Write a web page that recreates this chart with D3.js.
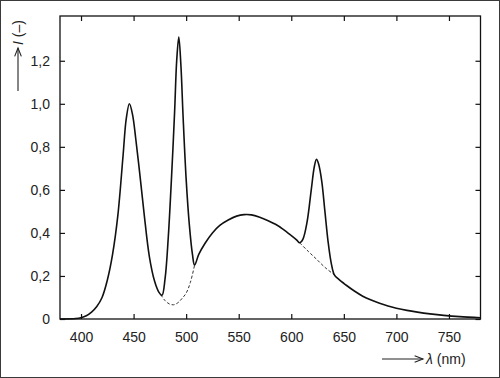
<!DOCTYPE html>
<html>
<head>
<meta charset="utf-8">
<script src="https://cdn.jsdelivr.net/npm/d3@7"></script>
<style>
  body { margin: 0; background: #fff; }
  svg { display: block; }
</style>
</head>
<body>
<div id="chart"></div>
<script>
/* Spectrum of a white LED: emission peaks on top of a broad phosphor band */
var waveLength = [380, 395, 400, 405, 410, 415, 420, 425, 430, 435, 440, 443, 446, 449, 452, 456, 460, 465, 470, 474, 477,
    480, 483, 486, 489, 491, 493, 495, 497, 500, 503, 506, 508, 512, 518, 525, 532, 540, 548, 555, 562, 570, 578, 585,
    592, 600, 605, 608, 611, 615, 619, 622, 624, 626, 629, 632, 635, 638, 641, 645, 652, 660, 668, 676, 684, 692, 700,
    710, 720, 732, 745, 760, 780];
var intensity = [0, 0.002, 0.006, 0.015, 0.032, 0.058, 0.1, 0.18, 0.3, 0.48, 0.76, 0.93, 1.0, 0.95, 0.84, 0.67, 0.49, 0.29, 0.175, 0.125, 0.11,
    0.19, 0.38, 0.65, 0.96, 1.2, 1.31, 1.18, 0.95, 0.65, 0.44, 0.3, 0.25, 0.3, 0.352, 0.4, 0.435, 0.46, 0.478, 0.485, 0.484, 0.473, 0.457, 0.44,
    0.418, 0.388, 0.368, 0.354, 0.37, 0.45, 0.6, 0.71, 0.742, 0.72, 0.64, 0.5, 0.36, 0.26, 0.205, 0.185, 0.158, 0.13, 0.106, 0.088, 0.073, 0.06, 0.05,
    0.04, 0.032, 0.024, 0.017, 0.011, 0.006];

/* dashed baseline under the two narrow peaks */
var dashWave1 = [476, 480, 484, 488, 492, 496, 500, 504, 508];
var dashValue1 = [0.113, 0.085, 0.07, 0.066, 0.075, 0.095, 0.12, 0.17, 0.25];
var dashWave2 = [608, 616, 624, 632, 641];
var dashValue2 = [0.354, 0.315, 0.278, 0.24, 0.205];

var xTicks = [400, 450, 500, 550, 600, 650, 700, 750];
var yTicks = [0, 0.2, 0.4, 0.6, 0.8, 1.0, 1.2];

var width = 500,
    height = 378,
    fontSize = 14,
    fontFamily = "'Liberation Sans', Arial, Helvetica, sans-serif";

var plot = { left: 60, right: 480.5, top: 16, bottom: 319 };

var x = d3.scaleLinear().domain([380, 780]).range([plot.left, plot.right]);
var y = d3.scaleLinear().domain([0, 1.408]).range([plot.bottom, plot.top]);

var svg = d3.select("#chart").append("svg")
    .attr("width", width)
    .attr("height", height)
    .style("font-family", fontFamily);

/* outer picture frame */
svg.append("rect")
    .attr("x", 0.5).attr("y", 0.5)
    .attr("width", width - 1).attr("height", height - 1)
    .attr("fill", "none")
    .attr("stroke", "#3a3a3a")
    .attr("stroke-width", 1);

function yFormat(d) {
    return d === 0 ? "0" : d.toFixed(1).replace(".", ",");
}

function styleAxis(g) {
    g.select(".domain").remove();
    g.selectAll(".tick line").attr("stroke", "#111").attr("stroke-width", 1.2);
    g.selectAll(".tick text").attr("fill", "#222").style("font-size", fontSize + "px").style("font-family", fontFamily);
}

svg.append("g")
    .attr("transform", "translate(0," + plot.bottom + ")")
    .call(d3.axisBottom(x).tickValues(xTicks).tickSize(-5).tickPadding(13))
    .call(styleAxis);

svg.append("g")
    .attr("transform", "translate(0," + plot.top + ")")
    .call(d3.axisTop(x).tickValues(xTicks).tickSize(-5).tickFormat(""))
    .call(styleAxis);

svg.append("g")
    .attr("transform", "translate(" + plot.left + ",0)")
    .call(d3.axisLeft(y).tickValues(yTicks).tickSize(-5).tickPadding(10).tickFormat(yFormat))
    .call(styleAxis);

svg.append("g")
    .attr("transform", "translate(" + plot.right + ",0)")
    .call(d3.axisRight(y).tickValues(yTicks).tickSize(-5).tickFormat(""))
    .call(styleAxis);

/* plot frame */
svg.append("rect")
    .attr("x", plot.left).attr("y", plot.top)
    .attr("width", plot.right - plot.left).attr("height", plot.bottom - plot.top)
    .attr("fill", "none")
    .attr("stroke", "#111")
    .attr("stroke-width", 1.3);

var line = d3.line()
    .x(function(d) { return x(d[0]); })
    .y(function(d) { return y(d[1]); })
    .curve(d3.curveCatmullRom.alpha(0.5));

svg.append("path")
    .datum(d3.zip(dashWave1, dashValue1))
    .attr("d", line)
    .attr("fill", "none")
    .attr("stroke", "#333")
    .attr("stroke-width", 1)
    .attr("stroke-dasharray", "3,2");

svg.append("path")
    .datum(d3.zip(dashWave2, dashValue2))
    .attr("d", line)
    .attr("fill", "none")
    .attr("stroke", "#333")
    .attr("stroke-width", 1)
    .attr("stroke-dasharray", "3,2");

svg.append("path")
    .datum(d3.zip(waveLength, intensity))
    .attr("d", line)
    .attr("fill", "none")
    .attr("stroke", "#111")
    .attr("stroke-width", 1.6)
    .attr("stroke-linejoin", "round");

/* axis titles with arrows */
function arrow(x1, y1, x2, y2) {
    var a = Math.atan2(y2 - y1, x2 - x1), len = 9, spread = 0.38;
    svg.append("line")
        .attr("x1", x1).attr("y1", y1).attr("x2", x2).attr("y2", y2)
        .attr("stroke", "#222").attr("stroke-width", 1.1);
    svg.append("path")
        .attr("d", "M" + (x2 - len * Math.cos(a - spread)) + "," + (y2 - len * Math.sin(a - spread)) +
            "L" + x2 + "," + y2 +
            "L" + (x2 - len * Math.cos(a + spread)) + "," + (y2 - len * Math.sin(a + spread)))
        .attr("fill", "none").attr("stroke", "#222").attr("stroke-width", 1.1);
}

arrow(18, 91, 18, 48);
var yLabel = svg.append("text")
    .attr("transform", "translate(23,45) rotate(-90)")
    .attr("fill", "#222")
    .style("font-size", fontSize + "px");
yLabel.append("tspan").style("font-style", "italic").text("I");
yLabel.append("tspan").text(" (\u2013)");

arrow(382, 359, 423, 359);
var xLabel = svg.append("text")
    .attr("x", 426).attr("y", 364)
    .attr("fill", "#222")
    .style("font-size", fontSize + "px");
xLabel.append("tspan").style("font-style", "italic").text("\u03bb");
xLabel.append("tspan").text(" (nm)");
</script>
</body>
</html>
